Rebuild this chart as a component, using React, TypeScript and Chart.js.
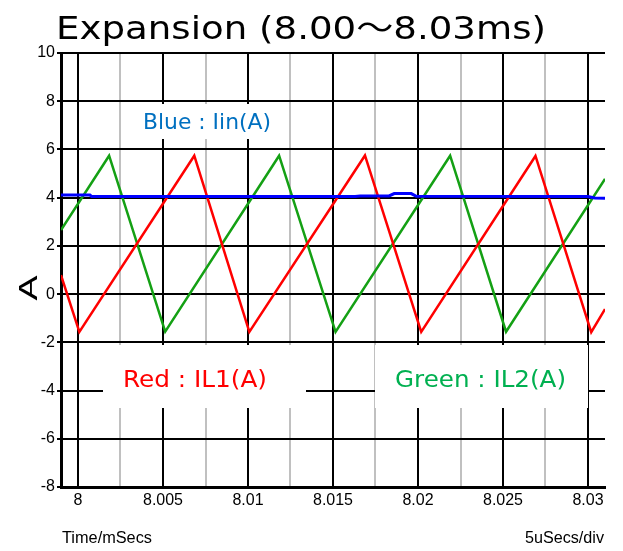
import React, { useEffect, useRef } from 'react';
import { Chart, registerables } from 'chart.js';

Chart.register(...registerables);

// ---- text ----
const titleText = 'Expansion (8.00～8.03ms)';
const yAxisTitle = 'A';
const xAxisNote = 'Time/mSecs';
const divNote = '5uSecs/div';
const blueLabel = 'Blue : Iin(A)';
const redLabel = 'Red : IL1(A)';
const greenLabel = 'Green : IL2(A)';

// ---- axes ----
const xMin = 7.999;
const xMax = 8.031;
const xTickValues = [8, 8.0025, 8.005, 8.0075, 8.01, 8.0125, 8.015, 8.0175, 8.02, 8.0225, 8.025, 8.0275, 8.03];
const xTickLabels = ['8', '', '8.005', '', '8.01', '', '8.015', '', '8.02', '', '8.025', '', '8.03'];
const yMin = -8;
const yMax = 10;
const yStep = 2;

// ---- series (time in ms, current in A) ----
const redTime = [7.999, 8.00008, 8.00684, 8.01008, 8.01688, 8.02019, 8.02691, 8.03019, 8.031];
const redCurrent = [0.79, -1.57, 5.74, -1.57, 5.75, -1.57, 5.73, -1.58, -0.62];

const greenTime = [7.999, 8.00183, 8.00513, 8.01183, 8.01515, 8.02189, 8.02518, 8.031];
const greenCurrent = [2.66, 5.74, -1.56, 5.74, -1.57, 5.74, -1.56, 4.78];

const blueTime = [7.999, 8.0007, 8.0008, 8.0163, 8.0166, 8.0183, 8.0186, 8.0196, 8.0199, 8.0300, 8.0304, 8.031];
const blueCurrent = [4.11, 4.11, 4.05, 4.05, 4.07, 4.07, 4.17, 4.17, 4.06, 4.05, 3.99, 3.98];

const toPoints = (t: number[], v: number[]) => t.map((x, i) => ({ x, y: v[i] }));

const FONT_LABEL = "'DejaVu Sans', 'Noto Sans CJK JP', sans-serif";
const FONT_ARIAL = "'Liberation Sans', Arial, sans-serif";

function drawFitted(
  ctx: CanvasRenderingContext2D,
  text: string,
  x: number,
  baseline: number,
  font: string,
  color: string,
  width: number,
  align: 'left' | 'center' | 'right'
) {
  ctx.save();
  ctx.font = font;
  ctx.fillStyle = color;
  ctx.textBaseline = 'alphabetic';
  ctx.textAlign = 'left';
  const w = ctx.measureText(text).width;
  const sx = width / w;
  const x0 = align === 'left' ? x : align === 'center' ? x - width / 2 : x - width;
  ctx.translate(x0, baseline);
  ctx.scale(sx, 1);
  ctx.fillText(text, 0, 0);
  ctx.restore();
}

const decorations = {
  id: 'decorations',
  beforeDatasetsDraw(chart: any) {
    const ctx: CanvasRenderingContext2D = chart.ctx;
    ctx.save();
    ctx.fillStyle = '#ffffff';
    ctx.fillRect(122, 104, 166, 35);
    ctx.fillRect(103, 345, 203, 63);
    ctx.fillRect(375, 345, 213, 63);
    ctx.restore();
    drawFitted(ctx, blueLabel, 143, 129, `22px ${FONT_LABEL}`, '#0070c0', 128, 'left');
    drawFitted(ctx, redLabel, 123, 387, `23px ${FONT_LABEL}`, '#ff0000', 144, 'left');
    drawFitted(ctx, greenLabel, 395, 387, `23px ${FONT_LABEL}`, '#00b050', 171, 'left');
  },
  afterDraw(chart: any) {
    const ctx: CanvasRenderingContext2D = chart.ctx;
    drawFitted(ctx, titleText, 56, 39, `32px ${FONT_LABEL}`, '#000000', 490, 'left');
    drawFitted(ctx, xAxisNote, 62, 543, `16px ${FONT_ARIAL}`, '#000000', 90, 'left');
    drawFitted(ctx, divNote, 604, 543, `16px ${FONT_ARIAL}`, '#000000', 79, 'right');
    ctx.save();
    ctx.translate(37, 288);
    ctx.rotate(-Math.PI / 2);
    drawFitted(ctx, yAxisTitle, 0, 0, `26px ${FONT_ARIAL}`, '#000000', 25, 'center');
    ctx.restore();
  },
};

export default function App() {
  const canvasRef = useRef<HTMLCanvasElement | null>(null);

  useEffect(() => {
    if (!canvasRef.current) return;
    const chart = new Chart(canvasRef.current, {
      type: 'line',
      data: {
        datasets: [
          {
            label: 'Iin',
            data: toPoints(blueTime, blueCurrent),
            borderColor: '#0000ff',
            borderWidth: 3,
            pointRadius: 0,
            tension: 0,
          },
          {
            label: 'IL1',
            data: toPoints(redTime, redCurrent),
            borderColor: '#ff0000',
            borderWidth: 2.5,
            pointRadius: 0,
            tension: 0,
          },
          {
            label: 'IL2',
            data: toPoints(greenTime, greenCurrent),
            borderColor: '#14a014',
            borderWidth: 2.5,
            pointRadius: 0,
            tension: 0,
          },
        ],
      },
      options: {
        responsive: false,
        animation: false,
        devicePixelRatio: 1,
        layout: { padding: { top: 53, right: 18, bottom: 0, left: 0 } },
        plugins: {
          legend: { display: false },
          title: { display: false },
          tooltip: { enabled: false },
        },
        scales: {
          x: {
            type: 'linear',
            min: xMin,
            max: xMax,
            afterFit: (scale: any) => {
              scale.height = 64;
            },
            afterBuildTicks: (scale: any) => {
              scale.ticks = xTickValues.map((value) => ({ value }));
            },
            grid: {
              color: (c: any) => (c.index % 2 === 0 ? '#000000' : '#c0c0c0'),
              lineWidth: 2,
              drawTicks: false,
            },
            border: { display: true, color: '#000000', width: 3 },
            ticks: {
              autoSkip: false,
              maxRotation: 0,
              padding: 4,
              color: '#000000',
              font: { family: FONT_ARIAL, size: 16 },
              callback: (_v: any, i: number) => xTickLabels[i],
            },
          },
          y: {
            type: 'linear',
            min: yMin,
            max: yMax,
            afterFit: (scale: any) => {
              scale.width = 61;
            },
            grid: {
              color: '#000000',
              lineWidth: 2,
              drawTicks: true,
              tickLength: 4,
            },
            border: { display: true, color: '#000000', width: 3 },
            ticks: {
              stepSize: yStep,
              padding: 2,
              color: '#000000',
              font: { family: FONT_ARIAL, size: 16 },
              callback: (v: any) => String(v),
            },
          },
        },
      },
      plugins: [decorations],
    } as any);
    return () => chart.destroy();
  }, []);

  return (
    <div style={{ position: 'absolute', left: 0, top: 0, width: 623, height: 551, background: '#ffffff' }}>
      <canvas ref={canvasRef} width={623} height={551} style={{ display: 'block', width: 623, height: 551 }} />
    </div>
  );
}
